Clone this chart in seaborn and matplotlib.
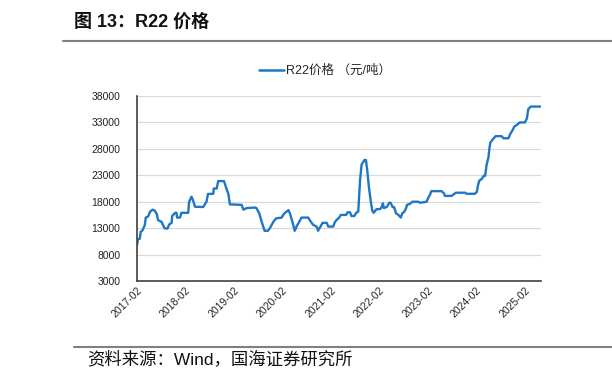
import matplotlib
matplotlib.use("Agg")
import matplotlib.pyplot as plt
import matplotlib.dates as mdates
from matplotlib.lines import Line2D
import seaborn as sns
import pandas as pd

dates = [
    "2017-02-01", "2017-02-08", "2017-02-22", "2017-03-01", "2017-03-15", "2017-04-01",
    "2017-04-08", "2017-04-26", "2017-05-10", "2017-05-30", "2017-06-15", "2017-06-30",
    "2017-07-10", "2017-08-05", "2017-08-27", "2017-09-18", "2017-10-02", "2017-10-20",
    "2017-10-24", "2017-11-15", "2017-11-26", "2017-11-30", "2017-12-22", "2018-01-02",
    "2018-02-22", "2018-03-01", "2018-03-19", "2018-03-30", "2018-04-14", "2018-06-15",
    "2018-07-10", "2018-07-21", "2018-08-30", "2018-09-03", "2018-09-25", "2018-10-06",
    "2018-11-19", "2018-12-07", "2018-12-22", "2019-01-02", "2019-04-01", "2019-04-14",
    "2019-05-10", "2019-07-10", "2019-07-21", "2019-08-12", "2019-08-30", "2019-09-21",
    "2019-10-16", "2019-10-31", "2019-11-26", "2019-12-17", "2020-01-28", "2020-02-08",
    "2020-02-22", "2020-03-19", "2020-03-30", "2020-04-21", "2020-05-05", "2020-05-23",
    "2020-06-15", "2020-06-26", "2020-08-15", "2020-08-27", "2020-09-22", "2020-10-17",
    "2020-10-28", "2020-11-15", "2020-12-01", "2021-01-02", "2021-01-13", "2021-02-19",
    "2021-03-05", "2021-03-23", "2021-04-06", "2021-04-17", "2021-05-27", "2021-06-08",
    "2021-06-26", "2021-07-07", "2021-07-28", "2021-08-15", "2021-08-27", "2021-09-10",
    "2021-09-21", "2021-10-13", "2021-10-24", "2021-11-04", "2021-11-15", "2021-11-30",
    "2021-12-10", "2021-12-21", "2022-01-12", "2022-02-08", "2022-02-19", "2022-03-01",
    "2022-03-08", "2022-03-30", "2022-04-18", "2022-04-28", "2022-05-13", "2022-05-24",
    "2022-06-08", "2022-06-26", "2022-07-14", "2022-07-25", "2022-08-09", "2022-08-23",
    "2022-08-30", "2022-09-21", "2022-10-10", "2022-11-23", "2022-12-07", "2023-01-24",
    "2023-02-08", "2023-02-19", "2023-03-01", "2023-05-17", "2023-06-04", "2023-06-11",
    "2023-08-01", "2023-08-19", "2023-09-03", "2023-11-11", "2023-11-22", "2024-01-24",
    "2024-02-08", "2024-02-15", "2024-02-26", "2024-03-15", "2024-03-30", "2024-04-10",
    "2024-04-21", "2024-05-05", "2024-05-12", "2024-05-19", "2024-06-10", "2024-06-28",
    "2024-08-12", "2024-08-26", "2024-10-02", "2024-10-16", "2024-11-04", "2024-11-15",
    "2024-12-03", "2024-12-28", "2025-02-04", "2025-02-19", "2025-03-01", "2025-03-19",
    "2025-06-01",
]
prices = [
    9800, 10900, 11000, 12300, 12600, 13600,
    15000, 15200, 16100, 16500, 16300, 15700,
    14500, 14200, 13000, 12900, 13700, 14000,
    15300, 15900, 15900, 15000, 15000, 15900,
    15900, 18000, 18950, 18300, 17050, 17000,
    18000, 19460, 19500, 20500, 20500, 21900,
    21900, 20500, 19500, 17500, 17400, 16500,
    16800, 16900, 16800, 15800, 14200, 12500,
    12500, 13000, 14200, 14850, 15000, 15500,
    15900, 16400, 15800, 13900, 12500, 13500,
    14500, 15000, 15000, 14500, 13600, 13300,
    12500, 13300, 14000, 14000, 13300, 13300,
    14200, 14700, 15000, 15500, 15500, 16000,
    16000, 15300, 15300, 16000, 16100, 22100,
    25000, 25900, 25900, 23700, 20850, 18000,
    16400, 15900, 16600, 16600, 16950, 17700,
    16800, 17000, 17800, 17800, 17000, 17000,
    15800, 15500, 15000, 15800, 16100, 16800,
    17400, 17600, 18000, 18000, 17800, 18000,
    18850, 19300, 20000, 20000, 19600, 19100,
    19100, 19450, 19700, 19700, 19500, 19500,
    19900, 21000, 22000, 22300, 22900, 22900,
    25000, 26400, 28100, 29200, 29900, 30400,
    30400, 30000, 30000, 30800, 31600, 32200,
    32500, 33000, 33000, 33800, 35500, 36000,
    36000,
]
y_ticks = [3000, 8000, 13000, 18000, 23000, 28000, 33000, 38000]
x_tick_years = list(range(2017, 2026))
series_label = "R22价格 （元/吨）"
title_text = "图 13：R22 价格"
source_text = "资料来源：Wind，国海证券研究所"

sns.set_theme(style="white")
plt.rcParams["font.family"] = ["Liberation Sans", "Noto Sans CJK SC", "DejaVu Sans"]

df = pd.DataFrame({"date": pd.to_datetime(dates), "price": prices})

W, H = 612, 383
fig = plt.figure(figsize=(W / 100, H / 100), dpi=100)
fig.patch.set_facecolor("white")

left, right, bottom, top = 137, 541, 281, 96
ax = fig.add_axes([left / W, 1 - bottom / H, (right - left) / W, (bottom - top) / H])

line_color = "#1F77C4"
sns.lineplot(data=df, x="date", y="price", ax=ax, color=line_color, linewidth=1.7,
             legend=False)

ax.set_ylim(3000, 38000)
ax.set_yticks(y_ticks)
ax.set_xlim(pd.Timestamp("2017-02-01"), pd.Timestamp("2025-06-05"))
ax.set_xticks([pd.Timestamp(f"{y}-02-01") for y in x_tick_years])
ax.xaxis.set_major_formatter(mdates.DateFormatter("%Y-%m"))
ax.set_xlabel("")
ax.set_ylabel("")

ax.grid(axis="y", color="#D9D9D9", linewidth=0.9)
ax.grid(axis="x", visible=False)
for s in ["top", "right"]:
    ax.spines[s].set_visible(False)
for s in ["left", "bottom"]:
    ax.spines[s].set_color("#404040")
    ax.spines[s].set_linewidth(1.2)

ax.tick_params(axis="both", direction="in", length=3, width=1, color="#404040",
               labelsize=7.5, labelcolor="#222222")
ax.tick_params(axis="y", pad=12, length=4)
ax.tick_params(axis="x", pad=3)
for lbl in ax.get_xticklabels():
    lbl.set_rotation(45)
    lbl.set_ha("right")
    lbl.set_va("top")
    lbl.set_rotation_mode("anchor")

# legend
handle = Line2D([], [], color=line_color, linewidth=1.8)
fig.legend([handle], [series_label], loc="center", bbox_to_anchor=(325 / W, 1 - 71 / H),
           frameon=False, fontsize=9, handlelength=2.0, handletextpad=0.1)

# title and rules
fig.text(74 / W, 1 - 22 / H, title_text, fontsize=13, fontweight="bold", ha="left",
         va="center", color="#111111")
fig.add_artist(Line2D([63 / W, 1.0], [1 - 41 / H, 1 - 41 / H], color="#808080", linewidth=1.5))
fig.add_artist(Line2D([74 / W, 1.0], [1 - 347 / H, 1 - 347 / H], color="#808080", linewidth=1.5))
fig.text(87 / W, 1 - 359 / H, source_text, fontsize=12.5, ha="left", va="center",
         color="#111111")

fig.savefig("out.png", dpi=100, facecolor="white")
